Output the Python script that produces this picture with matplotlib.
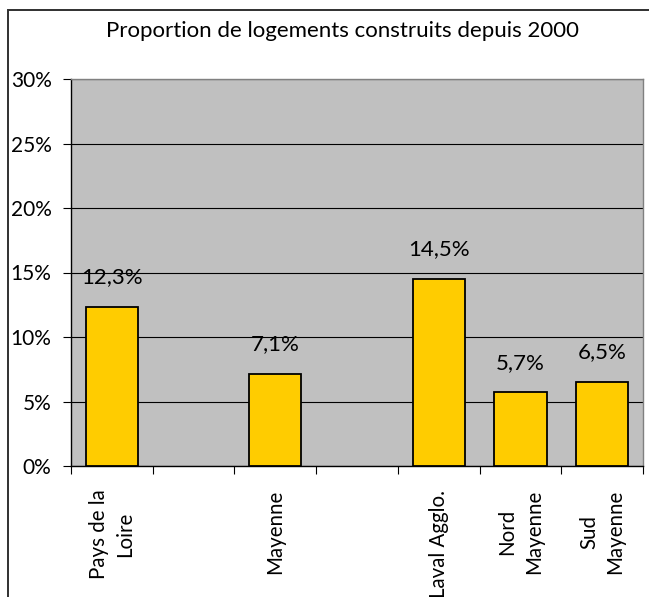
import matplotlib
matplotlib.use("Agg")
import matplotlib.pyplot as plt
from matplotlib.patches import Rectangle
from matplotlib.ticker import FixedLocator, NullFormatter

plt.rcParams["font.family"] = ["Lato", "DejaVu Sans"]

# Data
categories = ["Pays de la\nLoire", "", "Mayenne", "", "Laval Agglo.", "Nord\nMayenne", "Sud\nMayenne"]
values = [12.3, None, 7.1, None, 14.5, 5.7, 6.5]
yticks = [0, 5, 10, 15, 20, 25, 30]
title = "Proportion de logements construits depuis 2000"

W, H = 649, 597
fig = plt.figure(figsize=(W / 100, H / 100), dpi=100)
ax = fig.add_axes([71 / W, 1 - 466 / H, (643 - 71) / W, (466 - 79) / H])
ax.set_facecolor("#C0C0C0")

xs = [i for i, v in enumerate(values) if v is not None]
vals = [v for v in values if v is not None]
bars = ax.bar(xs, vals, width=0.64, color="#FFCC00", edgecolor="black", linewidth=1.3, zorder=3)

# value labels with French decimal comma
for x, v in zip(xs, vals):
    ax.annotate(f"{v:.1f}%".replace(".", ","), (x, v), xytext=(0, 21.5),
                textcoords="offset points", ha="center", va="center", fontsize=16)

ax.set_xlim(-0.5, len(categories) - 0.5)
ax.set_ylim(0, 30)
ax.set_yticks(yticks)
ax.set_yticklabels([f"{t}%" for t in yticks], fontsize=15)
ax.yaxis.grid(True, color="black", linewidth=0.8, zorder=1)
ax.set_axisbelow(True)

# ticks between categories, labels at centres
ax.xaxis.set_major_locator(FixedLocator([i - 0.5 for i in range(len(categories) + 1)]))
ax.xaxis.set_major_formatter(NullFormatter())
ax.xaxis.set_minor_locator(FixedLocator(range(len(categories))))
ax.set_xticklabels(categories, minor=True, rotation=90, fontsize=14.8,
                   va="top", ha="center", multialignment="center", linespacing=1.4)
ax.tick_params(axis="x", which="minor", length=0, pad=17)
ax.tick_params(axis="x", which="major", length=6, width=0.8, direction="out")
ax.tick_params(axis="y", length=6, width=0.8, direction="out", pad=8)

ax.spines["left"].set_color("black")
ax.spines["bottom"].set_color("black")
ax.spines["top"].set_color("#808080")
ax.spines["right"].set_color("#808080")
for s in ax.spines.values():
    s.set_linewidth(1.0)

fig.text(343 / W, 1 - 31 / H, title, ha="center", va="center", fontsize=16)

# chart border
fig.patches.append(Rectangle((8 / W, -0.1), 2, 1.1 - 10 / H, transform=fig.transFigure,
                             fill=False, edgecolor="#303030", linewidth=1.4))

fig.savefig("out.png", dpi=100)
